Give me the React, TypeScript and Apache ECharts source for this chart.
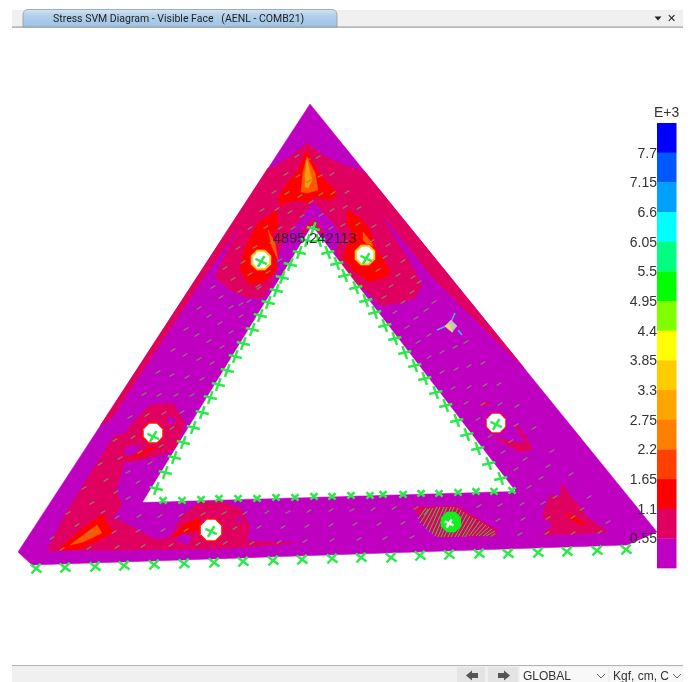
import React, { useEffect, useRef } from "react";
import * as echarts from "echarts";

type Pt = number[];

const legendColors = ["#0000ff","#0058ff","#00a0ff","#00ffff","#00ff80","#00ff00","#80ff00","#ffff00","#ffcc00","#ffa500","#ff8000","#ff4000","#ff0000","#e00060","#c000c0"];
const legendLabels = ["7.7","7.15","6.6","6.05","5.5","4.95","4.4","3.85","3.3","2.75","2.2","1.65","1.1","0.55"];

const plateOutline: Pt[] = [[310,104],[657,532],[627,545],[32,565],[18,552]];
const plateOpening: Pt[] = [[312,226],[515,491],[143,502]];

const crimsonRegions: Pt[][] = [
  [[100,426],[268,168],[272,168],[290,157],[307,143],[323,155],[343,165],[365,172],[524,368],[435,280],[380,212],[396,240],[410,262],[422,285],[415,298],[398,303],[382,306],[368,292],[352,282],[340,262],[336,250],[343,236],[328,217],[313,202],[298,222],[283,240],[277,262],[272,285],[262,298],[245,297],[230,290],[215,277],[225,255],[243,223],[202,280],[112,418]],
  [[313,218],[325,232],[319,233],[312,226],[306,233],[300,232]],
  [[47,551],[65,515],[82,487],[100,458],[113,437],[125,433],[135,420],[150,405],[173,403],[185,423],[177,447],[167,453],[143,460],[125,462],[120,477],[116,490],[122,505],[113,518],[123,522],[143,533],[157,540],[170,537],[183,515],[200,502],[223,502],[240,508],[250,525],[247,541],[297,543],[220,549]],
  [[542,517],[550,495],[560,497],[562,483],[573,500],[582,508],[585,515],[608,532],[580,534],[542,535],[553,525]],
  [[413,507],[457,506],[498,531],[495,536],[437,537],[423,523]],
  [[478,403],[488,403],[493,404],[483,406]],
  [[493,437],[513,442],[528,443],[532,450],[520,452]],
  [[515,425],[520,428],[532,447],[527,445]],
];
const purpleBlotches: Pt[][] = [
  [[125,447],[142,445],[133,455],[125,455]],
  [[168,417],[176,418],[172,425],[168,423]],
  [[175,540],[183,533],[192,537],[187,545]],
  [[237,517],[243,520],[237,523]],
  [[355,229],[363,231],[361,240]],
];
const redRegions: Pt[][] = [
  [[307,150],[315,167],[325,180],[337,193],[332,200],[313,197],[307,203],[297,200],[280,205],[278,197],[290,180],[298,170]],
  [[277,210],[278,227],[272,233],[275,257],[277,270],[263,282],[250,285],[240,270],[245,247],[258,223]],
  [[347,210],[360,218],[370,230],[375,247],[390,270],[387,277],[370,282],[353,270],[343,257],[353,233],[347,223]],
  [[58,550],[83,528],[103,514],[107,523],[113,532],[100,540],[80,549]],
  [[125,460],[150,448],[158,447],[143,455]],
  [[172,538],[183,525],[200,518],[200,530],[183,533]],
  [[565,515],[572,515],[587,525],[577,523]],
];
const orangeRegions: Pt[][] = [
  [[307,157],[315,173],[318,190],[307,193],[301,192],[303,172]],
  [[268,230],[275,243],[278,260],[272,247]],
  [[363,232],[372,243],[373,250],[363,240]],
  [[70,545],[97,525],[102,533],[83,542]],
];
const amberRegions: Pt[][] = [
  [[307,160],[312,180],[308,188],[305,187],[305,173]],
];

const holeRings = [[261,260,12],[365,255,12],[153,433,12],[211,530,13],[496,423,11]];
const holeGlows = [[261,260,11],[365,255,11]];
const holes = [[261,260,9],[365,255,9],[153,433,10],[211,530,11],[496,423,10]];
const greenCore = [[451,522,11]];

const hatchLines = [[424,515,428,509],[418,519,426,508],[420,523,430,508],[423,526,433,508],[426,529,437,507],[429,532,440,507],[432,534,444,507],[435,536,447,507],[438,537,451,507],[441,537,454,507],[444,537,458,508],[448,537,461,510],[451,537,464,512],[455,537,467,514],[458,537,470,516],[462,537,473,518],[465,537,476,519],[469,536,480,521],[472,536,483,523],[476,536,486,525],[479,536,489,527],[483,536,492,529],[486,536,495,531]];

const meshDashes: Pt[] = [
  [297,156],[318,157],[308,160],[286,174],[298,176],[320,176],[332,174],[309,181],[274,192],[287,193],[300,196],[321,194],[333,193],[347,192],
  [262,210],[277,209],[290,212],[311,202],[332,210],[345,207],[359,208],[250,228],[266,227],[280,228],[302,216],[321,215],[343,225],[358,224],[374,226],
  [238,248],[255,247],[272,242],[293,228],[331,228],[345,242],[372,241],[388,245],[225,268],[243,262],[280,260],[385,257],[403,261],[213,287],[233,279],[250,274],[268,272],[378,270],[398,275],[413,277],
  [240,291],[259,288],[221,297],[241,304],[258,286],[199,308],[209,316],[231,307],[249,301],[186,329],[197,335],[220,323],[241,316],[173,350],[209,341],[231,332],[185,355],[222,347],[158,372],[199,359],[212,363],[172,375],[187,377],[202,379],[144,394],[159,395],[176,395],[192,395],
  [130,417],[147,415],[164,413],[182,412],[115,440],[133,437],[172,428],[100,464],[120,458],[140,452],[161,446],[84,488],[106,480],[128,472],[150,463],[68,513],[92,503],[116,492],[138,482],[52,538],[77,525],[103,512],[128,498],[62,549],[90,533],[117,517],[139,516],[160,516],[181,515],[203,514],[224,513],[245,513],[89,548],[114,532],[138,531],[163,530],[186,530],[235,528],[117,547],[143,546],[171,545],[198,544],[225,543],[252,543],
  [267,512],[288,512],[309,511],[331,510],[352,510],[373,509],[394,508],[416,508],[259,527],[283,527],[307,526],[331,525],[355,524],[379,524],[403,523],[279,542],[305,541],[332,540],[359,539],[385,538],[412,537],
  [479,506],[500,505],[522,504],[543,503],[498,520],[523,519],[548,518],[573,517],[493,535],[520,534],[547,533],[573,533],[600,532],[529,487],[555,497],[582,509],[608,522],[589,497],[571,474],[552,451],[534,428],[517,406],[500,404],[483,404],[466,403],[548,466],[541,478],[525,459],[516,469],[511,441],[503,452],[490,436],[478,419],[516,425],
  [391,286],[412,292],[419,282],[384,297],[403,302],[434,302],[395,312],[426,310],[416,318],[407,327],[429,335],[418,342],[466,342],[442,352],[455,347],[429,357],[483,363],[469,366],[456,369],[442,372],[499,384],[485,385],[469,387],[453,388],
];

const pinsLeftEdge: Pt[] = [[313,228],[307,240],[299,252],[290,264],[282,277],[276,290],[268,302],[260,315],[252,329],[243,343],[235,356],[227,370],[218,384],[210,397],[202,412],[193,427],[183,442],[174,457],[165,472],[156,488]];
const pinsRightEdge: Pt[] = [[319,240],[328,252],[337,263],[345,275],[356,287],[366,300],[375,312],[385,325],[395,338],[405,352],[415,365],[425,378],[436,392],[446,405],[457,420],[467,434],[478,448],[489,463],[501,478]];
const pinsInnerBottom: Pt[] = [[163,500],[182,500],[201,499],[219,498],[238,498],[257,498],[276,497],[295,497],[314,496],[332,496],[351,495],[370,495],[383,494],[403,494],[421,493],[439,493],[458,492],[476,491],[494,491],[512,490]];
const pinsOuterBottom: Pt[] = [[36,568],[65,567],[95,566],[124,565],[154,564],[184,563],[214,562],[243,561],[273,560],[302,559],[332,558],[361,557],[391,557],[420,555],[449,554],[479,553],[508,553],[538,552],[567,551],[597,550],[626,549]];
const pinsInHoles: Pt[] = [[261,261],[366,258],[153,436],[211,531],[496,424]];
const pinsInCore: Pt[] = [[449,523]];

const axisArms = [[451,322,455,313],[446,326,437,330],[458,330,462,335]];
const axisCube: Pt[] = [[451,320],[457,326],[452,332],[445,326]];
const axisCubeFace: Pt[] = [[445,326],[449,324],[453,332],[452,332]];

const tabTitle = "Stress SVM Diagram - Visible Face   (AENL - COMB21)";
const peakLabel = "4895,242113";
const coordSystemName = "GLOBAL";
const unitsName = "Kgf, cm, C";
const legendExponent = "E+3";

const FONT = "Arial, 'Liberation Sans', sans-serif";

function customLayer(count: number, z: number, build: (i: number, api: any) => any) {
  return {
    type: "custom",
    coordinateSystem: "cartesian2d",
    silent: true,
    clip: false,
    z,
    data: Array.from({ length: count }, (_, i) => [i, 0]),
    renderItem: (_p: any, api: any) => build(api.value(0), api),
  };
}

function polygons(regions: Pt[][], color: string, z: number) {
  return customLayer(regions.length, z, (i, api) => ({
    type: "polygon",
    shape: { points: regions[i].map((p) => api.coord(p)) },
    style: { fill: color, stroke: color, lineWidth: 0.5 },
  }));
}

function discs(list: number[][], color: string, z: number) {
  return customLayer(list.length, z, (i, api) => {
    const [cx, cy] = api.coord([list[i][0], list[i][1]]);
    const r = list[i][2];
    const pts = [0, 1, 2, 3, 4, 5, 6, 7].map((k) => {
      const a = Math.PI / 8 + (k * Math.PI) / 4;
      return [cx + r * Math.cos(a), cy + r * Math.sin(a)];
    });
    return { type: "polygon", shape: { points: pts }, style: { fill: color } };
  });
}

function pins(list: Pt[], rot: number, size: number, color: string, z: number) {
  return customLayer(list.length, z, (i, api) => {
    const [x, y] = api.coord(list[i]);
    return {
      type: "group",
      x,
      y,
      rotation: rot,
      children: [
        { type: "line", shape: { x1: -size * 0.9, y1: -size * 0.7, x2: size * 0.9, y2: size * 0.9 }, style: { stroke: color, lineWidth: 2.5 } },
        { type: "line", shape: { x1: -size * 0.9, y1: size * 0.9, x2: size * 0.9, y2: -size * 0.7 }, style: { stroke: color, lineWidth: 2.5 } },
      ],
    };
  });
}

export default function App() {
  const ref = useRef<HTMLDivElement>(null);
  useEffect(() => {
    if (!ref.current) return;
    const chart = echarts.init(ref.current, undefined, { renderer: "svg" });
    const bandTop = 123;
    const bandH = 29.67;
    const gray = "#f0f0f0";
    const pinGreen = "#2ce84a";
    const tabFill = new echarts.graphic.LinearGradient(0, 0, 0, 1, [
      { offset: 0, color: "#d3e3f2" },
      { offset: 0.35, color: "#b4d0ea" },
      { offset: 1, color: "#9dc2e6" },
    ]);
    const option: any = {
      animation: false,
      backgroundColor: "#ffffff",
      grid: { left: 0, right: 0, top: 0, bottom: 0 },
      xAxis: { type: "value", min: 0, max: 693, show: false },
      yAxis: { type: "value", min: 0, max: 682, inverse: true, show: false },
      series: [
        polygons([plateOutline], "#c000c0", 1),
        polygons(crimsonRegions, "#e00060", 2),
        polygons(purpleBlotches, "#c000c0", 3),
        polygons(redRegions, "#ff0000", 4),
        polygons(orangeRegions, "#ff5a00", 5),
        polygons(amberRegions, "#ff9a00", 6),
        polygons([plateOpening], "#ffffff", 7),
        discs(holeRings, "#ff1010", 8),
        discs(holeGlows, "#ffc800", 9),
        discs(holes, "#ffffff", 10),
        customLayer(meshDashes.length, 11, (i, api) => {
          const [x, y] = api.coord(meshDashes[i]);
          return {
            type: "line",
            shape: { x1: x - 2.4, y1: y + 1.5, x2: x + 2.4, y2: y - 1.5 },
            style: { stroke: "#78955f", lineWidth: 1.3, opacity: 0.85 },
          };
        }),
        customLayer(hatchLines.length, 12, (i, api) => {
          const h = hatchLines[i];
          const a = api.coord([h[0], h[1]]);
          const b = api.coord([h[2], h[3]]);
          return {
            type: "line",
            shape: { x1: a[0], y1: a[1], x2: b[0], y2: b[1] },
            style: { stroke: "#40c850", lineWidth: 1 },
          };
        }),
        discs(greenCore, "#10f020", 13),
        pins(pinsLeftEdge, 0.5, 5.6, pinGreen, 14),
        pins(pinsRightEdge, -0.5, 5.6, pinGreen, 14),
        pins(pinsInnerBottom, 0, 4, pinGreen, 14),
        pins(pinsOuterBottom, 0.1, 5.6, pinGreen, 14),
        pins(pinsInHoles, 0.3, 5.2, pinGreen, 14),
        pins(pinsInCore, 0.3, 4, "#ffffff", 14),
        customLayer(axisArms.length, 15, (i, api) => {
          const h = axisArms[i];
          const a = api.coord([h[0], h[1]]);
          const b = api.coord([h[2], h[3]]);
          return {
            type: "line",
            shape: { x1: a[0], y1: a[1], x2: b[0], y2: b[1] },
            style: { stroke: "#45b4ee", lineWidth: 1.5 },
          };
        }),
        polygons([axisCube], "#c4c4c4", 16),
        polygons([axisCubeFace], "#e8dc70", 17),
        customLayer(legendColors.length, 18, (i, api) => {
          const tl = api.coord([657, bandTop + i * bandH]);
          const br = api.coord([676.5, bandTop + (i + 1) * bandH]);
          return {
            type: "rect",
            shape: { x: tl[0], y: tl[1], width: br[0] - tl[0], height: br[1] - tl[1] + 0.3 },
            style: { fill: legendColors[i] },
          };
        }),
        customLayer(legendLabels.length, 19, (i, api) => {
          const p = api.coord([657, bandTop + (i + 1) * bandH]);
          return {
            type: "text",
            style: {
              text: legendLabels[i],
              x: p[0],
              y: p[1],
              align: "right",
              verticalAlign: "middle",
              fontSize: 14,
              fontFamily: FONT,
              fill: "#333333",
            },
          };
        }),
      ],
      graphic: [
        { type: "rect", z: 50, shape: { x: 12, y: 10, width: 671, height: 17 }, style: { fill: gray } },
        { type: "rect", z: 51, shape: { x: 12, y: 26.5, width: 671, height: 1.3 }, style: { fill: "#a0a0a0" } },
        { type: "rect", z: 52, shape: { x: 23, y: 9.5, width: 314, height: 17.5, r: [5, 5, 0, 0] }, style: { fill: tabFill, stroke: "#8a9aaa", lineWidth: 0.8 } },
        { type: "text", z: 53, x: 53, y: 18.5, style: { text: tabTitle, fontSize: 10.5, fontFamily: "Roboto", fill: "#222222", verticalAlign: "middle" } },
        { type: "polygon", z: 53, shape: { points: [[654.5, 16.5], [661.5, 16.5], [658, 20.5]] }, style: { fill: "#222222" } },
        { type: "text", z: 53, x: 667, y: 18, style: { text: "✕", fontSize: 11, fontFamily: "'DejaVu Sans'", fill: "#222222", verticalAlign: "middle" } },
        { type: "text", z: 60, x: 273, y: 238, style: { text: peakLabel, fontSize: 14.5, fontFamily: FONT, fill: "#222222", verticalAlign: "middle", opacity: 0.9 } },
        { type: "text", z: 60, x: 654, y: 112, style: { text: legendExponent, fontSize: 14, fontFamily: FONT, fill: "#333333", verticalAlign: "middle" } },

        { type: "rect", z: 50, shape: { x: 12, y: 665, width: 671, height: 17 }, style: { fill: gray } },
        { type: "rect", z: 51, shape: { x: 12, y: 665, width: 671, height: 1 }, style: { fill: "#b4b4b4" } },
        { type: "rect", z: 51, shape: { x: 457, y: 667, width: 28, height: 15 }, style: { fill: "#e4e4e4" } },
        { type: "rect", z: 51, shape: { x: 488, y: 667, width: 30, height: 15 }, style: { fill: "#e4e4e4" } },
        { type: "rect", z: 51, shape: { x: 520, y: 667, width: 88, height: 15 }, style: { fill: "#f8f8f8" } },
        { type: "rect", z: 51, shape: { x: 610, y: 667, width: 73, height: 15 }, style: { fill: "#f8f8f8" } },
        { type: "polygon", z: 53, shape: { points: [[466, 675.5], [472, 670.5], [472, 673], [478, 673], [478, 678], [472, 678], [472, 680.5]] }, style: { fill: "#555555" } },
        { type: "polygon", z: 53, shape: { points: [[510, 675.5], [504, 670.5], [504, 673], [498, 673], [498, 678], [504, 678], [504, 680.5]] }, style: { fill: "#555555" } },
        { type: "text", z: 53, x: 523, y: 676, style: { text: coordSystemName, fontSize: 12, fontFamily: FONT, fill: "#333333", verticalAlign: "middle" } },
        { type: "text", z: 53, x: 613, y: 676, style: { text: unitsName, fontSize: 12, fontFamily: FONT, fill: "#333333", verticalAlign: "middle" } },
        { type: "polyline", z: 53, shape: { points: [[597, 674], [601, 678], [605, 674]] }, style: { stroke: "#666666", lineWidth: 1, fill: "none" } },
        { type: "polyline", z: 53, shape: { points: [[673, 674], [677, 678], [681, 674]] }, style: { stroke: "#666666", lineWidth: 1, fill: "none" } },
      ],
    };
    chart.setOption(option);
    return () => chart.dispose();
  }, []);
  return (
    <div
      ref={ref}
      style={{ position: "absolute", left: 0, top: 0, width: 693, height: 682, filter: "blur(0.35px)" }}
    />
  );
}
